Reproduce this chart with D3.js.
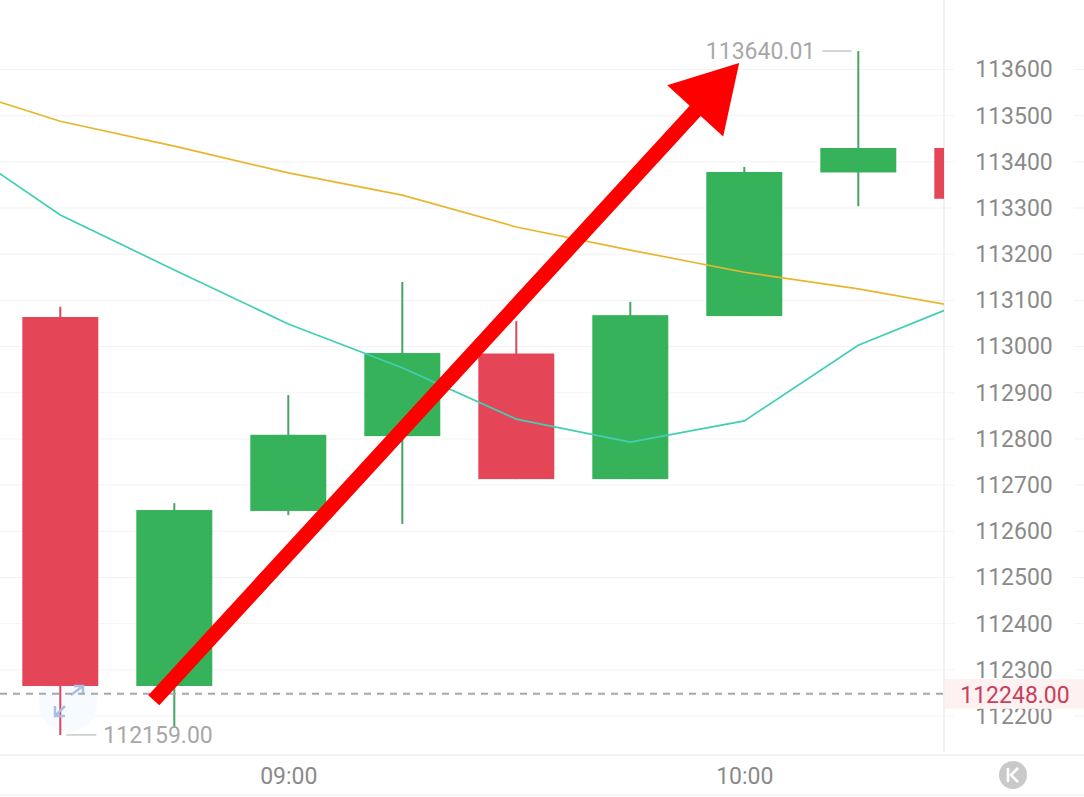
<!DOCTYPE html>
<html><head><meta charset="utf-8">
<script src="https://cdn.jsdelivr.net/npm/d3@7/dist/d3.min.js"></script>
<style>html,body{margin:0;padding:0;background:#fff;overflow:hidden}svg{display:block}text{font-family:Roboto,sans-serif}</style>
</head><body><svg id="c" width="1084" height="797"></svg>
<script>
const times=["08:15","08:30","08:45","09:00","09:15","09:30","09:45","10:00","10:15","10:30"];
const opens =[null,113064,112265,112644,112806,112985,112713,113066,113377,113430];
const closes=[null,112265,112646,112809,112986,112713,113068,113378,113430,113320];
const highs =[null,113086,112661,112895,113140,113055,113097,113389,113640,113430];
const lows  =[null,112159,112174,112635,112616,112713,112713,113066,113304,113320];
const maSlow=[113566,113488,113434,113376,113328,113259,113209,113161,113125,113081];
const maFast=[113454,113285,113166,113049,112954,112843,112793,112839,113003,113103];
const priceTicks=[112200,112300,112400,112500,112600,112700,112800,112900,113000,113100,113200,113300,113400,113500,113600];
const timeTicks=["09:00","10:00"];
const lastPrice=112248;
const maxLabel="113640.01", minLabel="112159.00", lastLabel="112248.00";
const maxIdx=8, minIdx=1, maxVal=113640.01, minVal=112159;
const arrowFrom=[1.82,112234], arrowTo=[6.955,113614];

const W=1084,H=797,plotR=944,plotB=752,candleW=76;
const x=d3.scaleLinear().domain([0,9]).range([-53.7,972.3]);
const y=d3.scaleLinear().domain([112200,113600]).range([716,69.5]);
const svg=d3.select("#c");
const defs=svg.append("defs");
defs.append("clipPath").attr("id","plot").append("rect").attr("x",0).attr("y",0).attr("width",plotR).attr("height",plotB);

// grid
const grid=svg.append("g").attr("stroke","#f3f3f3").attr("stroke-width",1);
grid.selectAll("line").data(priceTicks).join("line").attr("x1",0).attr("x2",W).attr("y1",d=>y(d)).attr("y2",d=>y(d));
svg.append("line").attr("x1",plotR).attr("x2",plotR).attr("y1",0).attr("y2",plotB).attr("stroke","#f1f1f1").attr("stroke-width",2);
svg.append("line").attr("x1",0).attr("x2",W).attr("y1",755).attr("y2",755).attr("stroke","#efefef").attr("stroke-width",1.5);
svg.append("line").attr("x1",0).attr("x2",W).attr("y1",795).attr("y2",795).attr("stroke","#f1f1f1").attr("stroke-width",1.5);

// y axis
const yAxis=d3.axisRight(y).tickValues(priceTicks).tickSize(0).tickPadding(0).tickFormat(d3.format("d"));
const ya=svg.append("g").attr("transform","translate(1014,0)").call(yAxis);
ya.select(".domain").remove();
ya.selectAll(".tick").insert("rect","text").attr("x",-60).attr("y",-12).attr("width",120).attr("height",24).attr("fill","#fff");
ya.selectAll("text").attr("text-anchor","middle").attr("x",0).attr("font-size",23).attr("fill","#8a8a8a").style("font-family","Roboto,sans-serif");

// x axis
const xAxis=d3.axisBottom(x).tickValues(timeTicks.map(t=>times.indexOf(t))).tickSize(0).tickPadding(0).tickFormat(i=>times[i]);
const xa=svg.append("g").attr("transform","translate(0,767)").call(xAxis);
xa.select(".domain").remove();
xa.selectAll("text").attr("font-size",23).attr("fill","#8a8a8a").attr("dy","0.72em").attr("y",0).style("font-family","Roboto,sans-serif");

// expand icon
const ic=svg.append("g").attr("transform","translate(68,703)");
ic.append("circle").attr("r",29).attr("fill","#f7faff");
const plot=svg.append("g").attr("clip-path","url(#plot)");

// candles
const idx=d3.range(1,times.length);
const col=i=>closes[i]>=opens[i]?"#36b35a":"#e44658";
const wick=i=>closes[i]>=opens[i]?"#46a566":"#d9475c";
plot.selectAll("line.w").data(idx).join("line").attr("class","w")
 .attr("x1",i=>x(i)).attr("x2",i=>x(i)).attr("y1",i=>y(highs[i])).attr("y2",i=>y(lows[i]))
 .attr("stroke",wick).attr("stroke-width",2);
plot.selectAll("rect.b").data(idx).join("rect").attr("class","b")
 .attr("x",i=>x(i)-candleW/2).attr("width",candleW)
 .attr("y",i=>y(Math.max(opens[i],closes[i])))
 .attr("height",i=>Math.abs(y(opens[i])-y(closes[i])))
 .attr("fill",col);

// moving averages
const ln=d3.line().x((d,i)=>x(i)).y(d=>y(d));
plot.append("path").attr("d",ln(maSlow)).attr("fill","none").attr("stroke","#e8b62e").attr("stroke-width",1.7);
plot.append("path").attr("d",ln(maFast)).attr("fill","none").attr("stroke","#41cfb2").attr("stroke-width",1.7);

// icon arrows above candle wick
const ia=svg.append("g").attr("transform","translate(68,703)").attr("stroke","#a9bfe6").attr("stroke-width",2.5).attr("fill","none");
ia.append("path").attr("d","M3,-8 L15,-17 M6,-17 L15,-17 L15,-9");
ia.append("path").attr("d","M-3,3 L-13,13 M-13,3 L-13,13 L-3,13");

// last price line and tag
svg.append("line").attr("x1",0).attr("x2",plotR).attr("y1",y(lastPrice)).attr("y2",y(lastPrice))
 .attr("stroke","#a8a8a8").attr("stroke-width",2).attr("stroke-dasharray","7 6");
svg.append("rect").attr("x",plotR+1).attr("y",y(lastPrice)-15).attr("width",W-plotR).attr("height",30).attr("fill","#fdf1f1");
svg.append("text").attr("x",1015).attr("y",y(lastPrice)+1).attr("dy","0.36em").attr("text-anchor","middle")
 .attr("font-size",23).attr("fill","#c9405a").text(lastLabel);

// high / low labels
const hi=y(maxVal), lo=y(minVal);
svg.append("line").attr("x1",x(maxIdx)-36).attr("x2",x(maxIdx)-7).attr("y1",hi).attr("y2",hi).attr("stroke","#c8c8c8").attr("stroke-width",1.5);
svg.append("text").attr("x",x(maxIdx)-43).attr("y",hi).attr("dy","0.36em").attr("text-anchor","end").attr("font-size",23).attr("fill","#a8a8a8").text(maxLabel);
svg.append("line").attr("x1",x(minIdx)+6).attr("x2",x(minIdx)+36).attr("y1",lo).attr("y2",lo).attr("stroke","#c8c8c8").attr("stroke-width",1.5);
svg.append("text").attr("x",x(minIdx)+43).attr("y",lo).attr("dy","0.36em").attr("text-anchor","start").attr("font-size",23).attr("fill","#a8a8a8").text(minLabel);

// K button
svg.append("circle").attr("cx",1013).attr("cy",775).attr("r",14).attr("fill","#c9c9c9");
svg.append("path").attr("d","M1008,768 V782 M1018,768 L1011,775 L1018,782").attr("fill","none").attr("stroke","#fff").attr("stroke-width",2.6);

// red annotation arrow
const ax0=x(arrowFrom[0]),ay0=y(arrowFrom[1]),ax1=x(arrowTo[0]),ay1=y(arrowTo[1]);
const len=Math.hypot(ax1-ax0,ay1-ay0),ux=(ax1-ax0)/len,uy=(ay1-ay0)/len,nx=-uy,ny=ux;
const sw=7.5,hw=38,hl=65;
const bx=ax1-ux*hl,by=ay1-uy*hl;
const pts=[[ax0+nx*sw,ay0+ny*sw],[bx+nx*sw,by+ny*sw],[bx+nx*hw,by+ny*hw],[ax1,ay1],[bx-nx*hw,by-ny*hw],[bx-nx*sw,by-ny*sw],[ax0-nx*sw,ay0-ny*sw]];
svg.append("polygon").attr("points",pts.map(p=>p.join(",")).join(" ")).attr("fill","#ff0000");
</script></body></html>
